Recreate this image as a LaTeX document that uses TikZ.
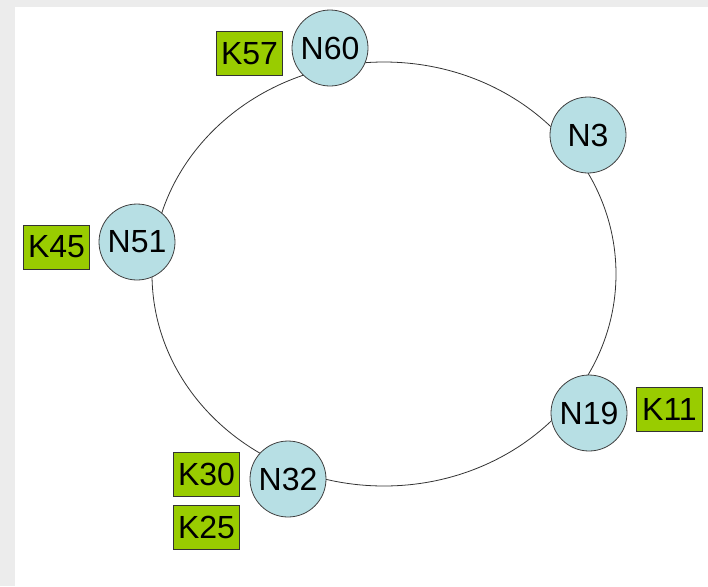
\documentclass[tikz,border=0pt]{standalone}
\usepackage{fontspec}
\setmainfont{Liberation Sans}
\usepackage{tikz}
\usetikzlibrary{positioning}

\definecolor{peerblue}{RGB}{183,223,228}
\definecolor{keygreen}{RGB}{153,204,0}
\definecolor{framegray}{RGB}{236,236,236}

\tikzset{
	peer/.style={circle,draw=black!75,line width=0.4pt,fill=peerblue,minimum size=38pt,inner sep=0pt,font=\fontsize{16}{18}\selectfont},
	keybox/.style={rectangle,draw=black!80,line width=0.4pt,fill=keygreen,minimum width=33pt,minimum height=22pt,inner sep=0pt,font=\fontsize{16}{18}\selectfont}
}

\begin{document}
\begin{tikzpicture}[x=0.5pt,y=-0.5pt]
			\useasboundingbox (0,0) rectangle (708,586);
			\fill[framegray] (0,0) rectangle (708,586);
			\fill[white] (15,7) rectangle (708,586);
			% ring
			\draw[black!80,line width=0.4pt] (384,274) ellipse [x radius=232,y radius=212];
			% peers
			\node[peer] (n60) at (330,48) {N60};
			\node[peer] (n3) at (588,135) {N3};
			\node[peer] (n19) at (589,413) {N19};
			\node[peer] (n32) at (288,479) {N32};
			\node[peer] (n51) at (137,242) {N51};
			% keys
			\node[keybox] (k57) at (249.5,53.5) {K57};
			\node[keybox] (k45) at (56.5,247) {K45};
			\node[keybox] (k11) at (669.5,409.5) {K11};
			\node[keybox] (k30) at (206.5,474.5) {K30};
			\node[keybox] (k25) at (206.5,527) {K25};
		\end{tikzpicture}
\end{document}
